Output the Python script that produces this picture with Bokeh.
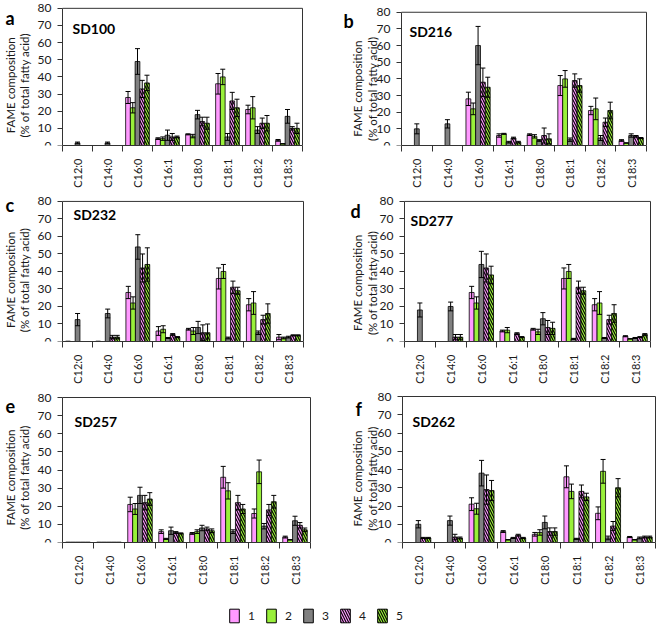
from math import pi
from bokeh.plotting import figure
from bokeh.models import (Range1d, FixedTicker, ColumnDataSource, Whisker, TeeHead,
                          Label, Legend, LegendItem)
from bokeh.layouts import column, row
from bokeh.embed import file_html
from bokeh.resources import INLINE

categories = ["C12:0", "C14:0", "C16:0", "C16:1", "C18:0", "C18:1", "C18:2", "C18:3"]
series = ["1", "2", "3", "4", "5"]
y_ticks = [0, 10, 20, 30, 40, 50, 60, 70, 80]
y_title = ["FAME composition", "(% of total fatty acid)"]

# mean values, one list per series (1..5), in category order
SD100_mean = [[0, 0, 28, 4, 6.5, 36, 21, 3],
              [0, 0, 22, 4, 5.5, 40, 22, 1],
              [1.5, 1.5, 49, 6, 18, 5, 9, 17],
              [0, 0, 33, 5, 14, 26, 13, 10],
              [0, 0, 36.5, 5, 13, 22, 13, 10]]
SD100_sd = [[0, 0, 3.5, 0.5, 0.3, 6, 2.5, 0.5],
            [0, 0, 3, 1, 1, 4.5, 6.5, 0],
            [0.5, 0.5, 7.5, 3, 2.5, 2, 2, 4],
            [0, 0, 5, 2, 2.5, 5, 3, 1],
            [0, 0, 4.5, 0.5, 3.5, 5, 4.5, 3]]

SD216_mean = [[0, 0, 28, 6, 6.5, 36, 21, 3],
              [0, 0, 22, 7, 5.5, 40, 22, 1.5],
              [10, 13, 60, 2, 3, 3.5, 4.5, 6],
              [0, 0, 38, 4.5, 6, 39, 14, 5.5],
              [0, 0, 35, 2, 4, 36, 21, 4.5]]
SD216_sd = [[0, 0, 4, 1, 0.5, 6, 2.5, 0.5],
            [0, 0, 3.5, 0.3, 1, 5, 6.5, 0],
            [3, 2.5, 11.5, 0.5, 0.5, 1, 1.5, 1],
            [0, 0, 8.5, 0.5, 4.5, 4, 2.5, 0.5],
            [0, 0, 6, 0.5, 3, 4, 5, 0.3]]

SD232_mean = [[0.2, 0.2, 28, 6, 7, 36, 21, 2.5],
              [0, 0, 22, 7, 6, 40, 22, 2],
              [12.5, 16, 54, 2, 8, 2, 5, 2.5],
              [0, 2.5, 42, 4, 5, 31, 12.5, 3.5],
              [0, 2.5, 44, 2.5, 5, 29, 16, 3.5]]
SD232_sd = [[0, 0, 3.5, 2.5, 0.5, 6, 3.5, 1.5],
            [0, 0, 3.5, 2, 2, 4, 6.5, 0.5],
            [3.5, 2.5, 7, 0.3, 3.5, 0.5, 1, 0.5],
            [0, 1, 8, 0.5, 4.5, 3.5, 2.5, 0.3],
            [0, 1, 9.5, 0.3, 5, 2, 5.5, 0.3]]

SD277_mean = [[0, 0, 28, 6, 7, 36, 21, 3],
              [0, 0, 22, 6.5, 5.5, 40, 22, 1.5],
              [18, 20, 44, 0, 13, 1.5, 2, 2],
              [0, 2.5, 42, 4.5, 8, 31, 12.5, 2.5],
              [0, 2.5, 38, 2.5, 7.5, 29, 16, 4]]
SD277_sd = [[0, 0, 3.5, 0.5, 0.5, 6, 3.5, 0.3],
            [0, 0, 3.5, 1.5, 1.5, 4, 6.5, 0],
            [4, 2.5, 7.5, 0, 3.5, 0.3, 0.3, 0.3],
            [0, 1.5, 8, 0.5, 4, 3.5, 2.5, 0.3],
            [0, 1.5, 5, 0.3, 3.5, 2, 5, 0.5]]

SD257_mean = [[0.2, 0.2, 21, 6, 5, 36, 16, 3],
              [0.2, 0.2, 18.5, 2, 6, 28.5, 39, 1.5],
              [0.2, 0.2, 26, 6.5, 8, 6, 9, 12],
              [0.2, 0.2, 22, 5.5, 7.5, 22, 18, 9.5],
              [0.2, 0.2, 24, 5, 6.5, 18.5, 22.5, 7]]
SD257_sd = [[0, 0, 4, 1, 0.5, 6, 2.5, 0.5],
            [0, 0, 3, 0.3, 1, 4.5, 6.5, 0],
            [0, 0, 4.5, 2, 1.5, 1, 1.5, 2.5],
            [0, 0, 4, 0.5, 1, 4, 3, 1.5],
            [0, 0, 3.5, 0.3, 1, 2.5, 3.5, 1]]

SD262_mean = [[0, 0, 21, 6, 4.5, 36, 16, 3],
              [0, 0, 18.5, 1.5, 5.5, 28, 39, 1.5],
              [10, 12, 38, 2.5, 11, 2, 2.5, 2.5],
              [2.5, 3, 29, 4, 6, 28, 9, 3],
              [2.5, 2.5, 28.5, 2.5, 6, 25, 30, 3]]
SD262_sd = [[0, 0, 3.5, 0.5, 1, 6, 3.5, 0.3],
            [0, 0, 3, 0, 1.5, 4, 6.5, 0],
            [2, 2.5, 7, 0.3, 3.5, 0.3, 1, 0.5],
            [0.3, 1.5, 8, 0.5, 2, 3.5, 2.5, 0.5],
            [0.3, 0.5, 5.5, 0.3, 2, 2, 5, 0.5]]

FONT = "Lato"
TXT = "#1a1a1a"
AX = "#333333"
FILLS = ["#FF99FF", "#99F03A", "#808080", "#FF99FF", "#99F03A"]
HATCH = [" ", " ", " ", "\\", "\\"]
BW = 0.158
YMAX = 80


def panel(letter, name, means, sds, W, H, bb, x0, x8, top, letter_pos, name_pos, tx, ty):
    """x0/x8: pixel columns of the first/last category edge, top: pixel row of y=80."""
    n = len(categories)
    hf = H - bb
    ppy = (hf - top) / YMAX
    ppx = (x8 - x0) / n

    def dx(px):
        return (px - x0) / ppx

    def dy(py):
        return (hf - py) / ppy

    p = figure(width=W, height=H, x_range=Range1d(dx(0), dx(W)), y_range=Range1d(0, dy(0)),
               output_backend="svg", toolbar_location=None,
               min_border_left=0, min_border_right=0, min_border_top=0, min_border_bottom=bb)
    p.xgrid.visible = False
    p.ygrid.visible = False
    p.outline_line_color = None

    centers = [i + 0.5 for i in range(n)]
    for j in range(len(series)):
        xs = [c + (j - 2) * BW for c in centers]
        vals = means[j]
        errs = sds[j]
        src = ColumnDataSource(dict(x=xs, top=vals))
        p.vbar(x="x", top="top", width=BW, bottom=0, source=src,
               fill_color=FILLS[j], line_color="black", line_width=0.8,
               hatch_pattern=HATCH[j], hatch_color="black", hatch_scale=5, hatch_weight=1.1)
        ex = [x for x, v in zip(xs, vals) if v > 0.5]
        eu = [v + e for v, e in zip(vals, errs) if v > 0.5]
        el = [max(v - e, 0) for v, e in zip(vals, errs) if v > 0.5]
        esrc = ColumnDataSource(dict(base=ex, upper=eu, lower=el))
        p.add_layout(Whisker(source=esrc, base="base", upper="upper", lower="lower",
                             line_color="black", line_width=1, level="annotation",
                             upper_head=TeeHead(size=5, line_width=1, line_color="black"),
                             lower_head=TeeHead(size=5, line_width=1, line_color="black")))

    # plot-area box (top and right edges)
    p.line(x=[0, n, n], y=[YMAX, YMAX, 0], line_color=AX, line_width=1)

    ya = p.yaxis[0]
    ya.fixed_location = 0
    ya.bounds = (0, YMAX)
    ya.ticker = FixedTicker(ticks=y_ticks)
    ya.major_label_text_font = FONT
    ya.major_label_text_font_size = "12px"
    ya.major_label_text_color = TXT
    ya.major_label_standoff = 6
    ya.major_tick_out = 5
    ya.major_tick_in = 0
    ya.minor_tick_line_color = None
    ya.axis_line_color = AX
    ya.major_tick_line_color = AX

    xa = p.xaxis[0]
    xa.bounds = (0, n)
    xa.ticker = FixedTicker(ticks=centers, minor_ticks=list(range(n + 1)))
    xa.major_label_overrides = {c: cat for c, cat in zip(centers, categories)}
    xa.major_label_orientation = pi / 2
    xa.major_label_text_font = FONT
    xa.major_label_text_font_size = "11px"
    xa.major_label_text_color = TXT
    xa.major_label_standoff = 7
    xa.major_tick_out = 0
    xa.major_tick_in = 0
    xa.major_tick_line_color = None
    xa.minor_tick_out = 6
    xa.minor_tick_in = 0
    xa.minor_tick_line_color = AX
    xa.axis_line_color = AX

    p.add_layout(Label(x=dx(letter_pos[0]), y=dy(letter_pos[1]), text=letter, text_font=FONT,
                       text_font_style="bold", text_font_size="18px", text_color="black",
                       text_baseline="alphabetic", text_align="left"))
    p.add_layout(Label(x=dx(name_pos[0]), y=dy(name_pos[1]), text=name, text_font=FONT,
                       text_font_style="bold", text_font_size="14px", text_color="black",
                       text_baseline="alphabetic", text_align="left"))
    for cx, t in zip(tx, y_title):
        p.add_layout(Label(x=dx(cx), y=dy(ty), text=t, angle=pi / 2, text_font=FONT,
                           text_font_size="11.5px", text_color=TXT,
                           text_baseline="middle", text_align="center"))
    return p


pa = panel("a", "SD100", SD100_mean, SD100_sd, 331, 190, 42, 62, 302, 8,
           (5, 18), (72, 29), (10, 24), 86.5)
pb = panel("b", "SD216", SD216_mean, SD216_sd, 331, 190, 42, 70, 315, 12,
           (12, 21), (78, 31.5), (26, 41), 90)
pc = panel("c", "SD232", SD232_mean, SD232_sd, 331, 196, 44, 62, 303, 11,
           (5, 15), (73, 24), (10, 24), 90)
pd = panel("d", "SD277", SD277_mean, SD277_sd, 331, 196, 44, 73, 319, 11,
           (19, 21), (79, 30), (26, 41), 93)
pe = panel("e", "SD257", SD257_mean, SD257_sd, 331, 206, 50, 62, 310, 11,
           (5, 19), (74, 34.5), (10, 24), 91)
pf = panel("f", "SD262", SD262_mean, SD262_sd, 331, 206, 50, 71, 324, 10,
           (24, 22), (81, 35), (26, 41), 92)

# legend strip
pl = figure(width=662, height=33, x_range=Range1d(0, 1), y_range=Range1d(0, 1),
            output_backend="svg", toolbar_location=None,
            min_border_left=0, min_border_right=0, min_border_top=0, min_border_bottom=0)
pl.axis.visible = False
pl.xgrid.visible = False
pl.ygrid.visible = False
pl.outline_line_color = None
items = []
for j, s in enumerate(series):
    r = pl.vbar(x=[-5], top=[-5], width=0.1, fill_color=FILLS[j], line_color="black", line_width=1,
                hatch_pattern=HATCH[j], hatch_color="black", hatch_scale=5, hatch_weight=1.1)
    items.append(LegendItem(label=s, renderers=[r]))
leg = Legend(items=items, orientation="horizontal", location=(228, 1),
             glyph_width=12, glyph_height=17, label_standoff=8, label_width=6, label_height=17,
             spacing=10, padding=0, margin=0, border_line_color=None, background_fill_alpha=0,
             label_text_font=FONT, label_text_font_size="12px", label_text_color=TXT)
pl.add_layout(leg)

layout = column(row(pa, pb), row(pc, pd), row(pe, pf), pl)

with open("out.html", "w") as f:
    f.write(file_html(layout, INLINE))
